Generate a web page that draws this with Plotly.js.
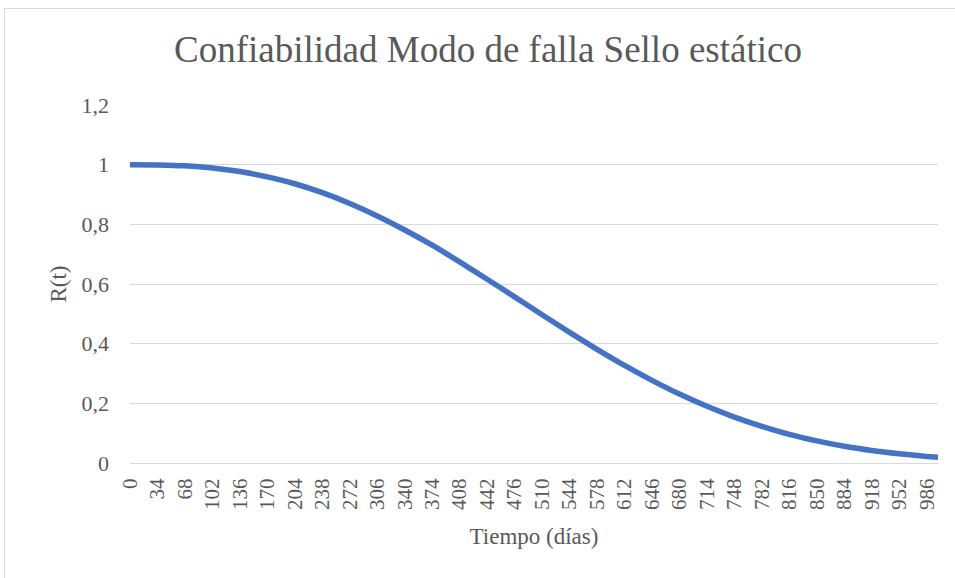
<!DOCTYPE html>
<html>
<head>
<meta charset="utf-8">
<script src="https://cdn.plot.ly/plotly-3.0.1.min.js"></script>
<style>
  html, body { margin: 0; padding: 0; background: #ffffff; overflow: hidden; }
  #chart { position: absolute; left: 0; top: 0; width: 955px; height: 578px; }
  #frame { position: absolute; left: 4px; top: 8px; width: 970px; height: 590px;
           border: 1px solid #d9d9d9; pointer-events: none; }
</style>
</head>
<body>
<div id="chart"></div>
<div id="frame"></div>
<script>
// Days (time in days) and reliability R(t)
const days = [0, 34, 68, 102, 136, 170, 204, 238, 272, 306, 340, 374, 408, 442, 476,
              510, 544, 578, 612, 646, 680, 714, 748, 782, 816, 850, 884, 918, 952, 986, 1000];
const reliability = [1.000, 0.999, 0.996, 0.989, 0.977, 0.959, 0.936, 0.906, 0.870, 0.828,
                     0.781, 0.730, 0.674, 0.616, 0.557, 0.497, 0.438, 0.381, 0.327, 0.277,
                     0.231, 0.190, 0.154, 0.123, 0.096, 0.074, 0.056, 0.042, 0.031, 0.022, 0.019];
// Category tick labels shown on the x axis
const xTickLabels = ["0","34","68","102","136","170","204","238","272","306","340","374","408",
                     "442","476","510","544","578","612","646","680","714","748","782","816",
                     "850","884","918","952","986"];
const yTickValues = [0, 0.2, 0.4, 0.6, 0.8, 1, 1.2];

const serif = "Liberation Serif";
const grey = "#595959";

const trace = {
  x: days,
  y: reliability,
  type: "scatter",
  mode: "lines",
  line: { color: "#4472C4", width: 5.5, shape: "spline", smoothing: 0.6 },
  hoverinfo: "x+y"
};

const layout = {
  width: 955,
  height: 578,
  paper_bgcolor: "#ffffff",
  plot_bgcolor: "#ffffff",
  separators: ",.",
  showlegend: false,
  font: { family: serif, color: grey, size: 22 },
  margin: { l: 130, r: 17, t: 105, b: 115 },
  title: {
    text: "Confiabilidad Modo de falla Sello estático",
    font: { family: serif, size: 37, color: grey },
    xref: "container", x: 0.511, xanchor: "center",
    yref: "container", y: 0.915, yanchor: "middle"
  },
  xaxis: {
    range: [0, 1000],
    tickmode: "array",
    tickvals: xTickLabels.map(Number),
    ticktext: xTickLabels,
    tickangle: -90,
    tickfont: { family: serif, size: 21, color: grey },
    ticks: "",
    ticklabelstandoff: 6,
    showgrid: false,
    zeroline: false,
    showline: true,
    linecolor: "#d9d9d9",
    linewidth: 1,
    title: { text: "Tiempo (días)", font: { family: serif, size: 23, color: grey }, standoff: 18 },
    automargin: false
  },
  yaxis: {
    range: [0, 1.2],
    tickmode: "array",
    tickvals: yTickValues,
    tickfont: { family: serif, size: 22, color: grey },
    ticks: "",
    ticklabelstandoff: 20,
    showgrid: true,
    gridcolor: "#d9d9d9",
    gridwidth: 1,
    zeroline: false,
    showline: false,
    title: { text: "R(t)", font: { family: serif, size: 23, color: grey }, standoff: 8 },
    automargin: false
  }
};

Plotly.newPlot("chart", [trace], layout, { displayModeBar: false, staticPlot: true });
</script>
</body>
</html>
